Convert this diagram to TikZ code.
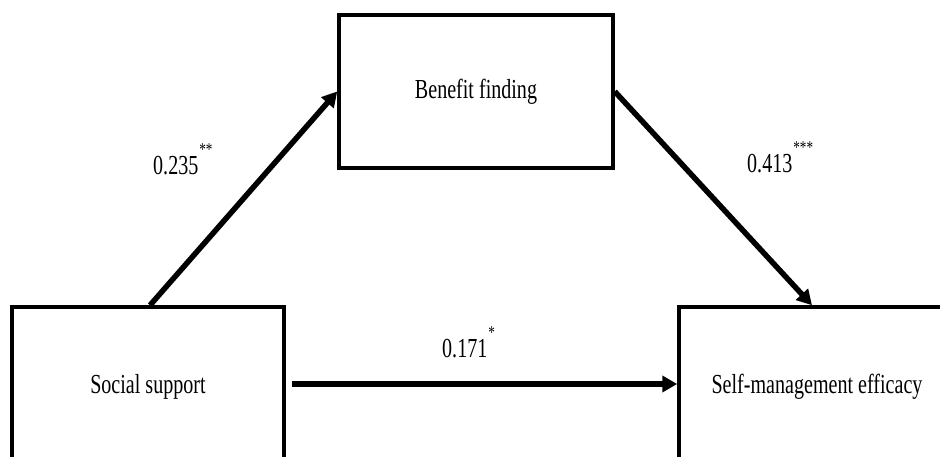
\documentclass[tikz,border=0pt]{standalone}
\usepackage{fontspec}
\setmainfont[FakeStretch=0.73]{Liberation Serif}
\usetikzlibrary{arrows.meta}
\tikzset{
  varbox/.style={draw=black, line width=3.5pt, fill=none, inner sep=0pt, font=\fontsize{27.5pt}{30pt}\selectfont},
  patharrow/.style={line width=5.5pt, -{Triangle[length=15pt,width=16pt]}},
  coef/.style={inner sep=0pt, font=\fontsize{27.5pt}{30pt}\selectfont, anchor=base west}
}
\newcommand{\sigstars}[1]{\hspace{1pt}\raisebox{19pt}{\fontsize{18pt}{18pt}\selectfont #1}}
\begin{document}
\begin{tikzpicture}[x=1pt, y=-1pt]
\clip (0,0) rectangle (940,457);
\fill[white] (0,0) rectangle (940,457);
\node[varbox, minimum width=274pt, minimum height=153pt] (bf) at (476,91.5) {Benefit finding};
\node[varbox, minimum width=272pt, minimum height=160pt] (ss) at (148,387) {Social support};
\node[varbox, minimum width=276pt, minimum height=160pt] (sm) at (817,387) {Self-management efficacy};
\draw[patharrow] ([xshift=2pt]ss.north) -- (bf.west);
\draw[patharrow] (bf.east) -- ([xshift=-5pt]sm.north);
\draw[patharrow] ([xshift=6pt,yshift=3pt]ss.east) -- ([yshift=3pt]sm.west);
\node[coef] (c1) at (153,175) {0.235\sigstars{**}};
\node[coef] (c2) at (747,173) {0.413\sigstars{***}};
\node[coef] (c3) at (442,357) {0.171\sigstars{*}};
\end{tikzpicture}
\end{document}
